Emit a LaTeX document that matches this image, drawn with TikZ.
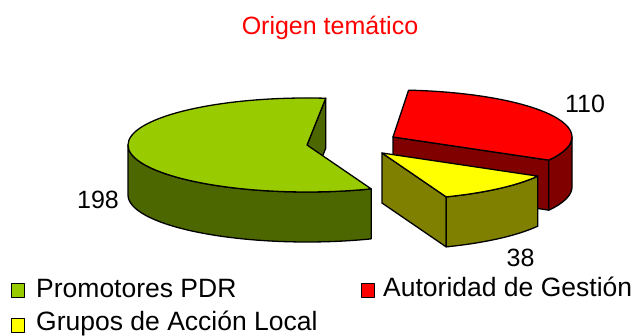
\documentclass[tikz,border=0pt]{standalone}
\usepackage{fontspec}
\setmainfont{Liberation Sans}
\usepackage{xcolor}
\usepackage{tikz}
\usetikzlibrary{calc}
\usetikzlibrary{positioning}

\definecolor{verdeTop}{HTML}{99CC00}
\definecolor{verdeLado}{HTML}{4C6600}
\definecolor{rojoTop}{HTML}{FF0000}
\definecolor{rojoLado}{HTML}{800000}
\definecolor{amarTop}{HTML}{FFFF00}
\definecolor{amarLado}{HTML}{808000}

\begin{document}
\begin{tikzpicture}[x=1pt,y=1pt,x radius=179,y radius=47,line join=round,
    every node/.style={font=\fontsize{25}{28}\selectfont}]
	\tikzstyle{cara}=[draw=black, line width=1.3pt]
	\tikzstyle{legbox}=[draw=black, line width=1pt, minimum size=13.5pt, inner sep=0pt]
	\tikzstyle{valor}=[anchor=base, inner sep=0pt]
	\tikzstyle{leyenda}=[anchor=base west, inner sep=0pt, font=\fontsize{26.5}{30}\selectfont]
	\useasboundingbox (0,0) rectangle (637,336);

	% centros de los sectores
	\coordinate (R) at (393,199);
	\coordinate (Y) at (382,183);
	\coordinate (G) at (307,191);

	% Autoridad de Gestion
	\draw[cara, fill=rojoLado] (R) -- ($(R)+(330.5:179 and 47)$) -- ++(0,-50) -- ($(R)+(0,-50)$) -- cycle;
	\draw[cara, fill=rojoLado] (R) ++(330.5:179 and 47) arc[start angle=330.5, end angle=360] -- ++(0,-50) arc[start angle=360, end angle=330.5] -- cycle;
	\draw[cara, fill=rojoTop] (R) -- ++(330.5:179 and 47) arc[start angle=330.5, end angle=445] -- cycle;

	% Grupos de Accion Local
	\draw[cara, fill=amarLado] (Y) -- ($(Y)+(291:179 and 47)$) -- ++(0,-50) -- ($(Y)+(0,-50)$) -- cycle;
	\draw[cara, fill=amarLado] (Y) ++(291:179 and 47) arc[start angle=291, end angle=330.5] -- ++(0,-50) arc[start angle=330.5, end angle=291] -- cycle;
	\draw[cara, fill=amarTop] (Y) -- ++(291:179 and 47) arc[start angle=291, end angle=330.5] -- cycle;

	% Promotores PDR
	\draw[cara, fill=verdeLado] (G) -- ($(G)+(84:179 and 47)$) -- ++(0,-50) -- ($(G)+(0,-50)$) -- cycle;
	\draw[cara, fill=verdeLado] (G) ++(180:179 and 47) arc[start angle=180, end angle=291] -- ++(0,-50) arc[start angle=291, end angle=180] -- cycle;
	\draw[cara, fill=verdeTop] (G) -- ++(84:179 and 47) arc[start angle=84, end angle=291] -- cycle;

	% titulo y valores
	\node[valor, text=red] (titulo) at (330,301) {Origen temático};
	\node[valor] (v198) at (98,127) {198};
	\node[valor] (v110) at (585,223) {110};
	\node[valor] (v38) at (520.5,69) {38};

	% leyenda
	\node[legbox, fill=verdeTop] (kPDR) at (18,45.5) {};
	\node[leyenda] (tPDR) at (36,38) {Promotores PDR};
	\node[legbox, fill=rojoTop] (kAG) at (368,45.5) {};
	\node[leyenda] (tAG) at (383,39) {Autoridad de Gestión};
	\node[legbox, fill=amarTop] (kGAL) at (18,10.5) {};
	\node[leyenda] (tGAL) at (36,5) {Grupos de Acción Local};
\end{tikzpicture}
\end{document}
